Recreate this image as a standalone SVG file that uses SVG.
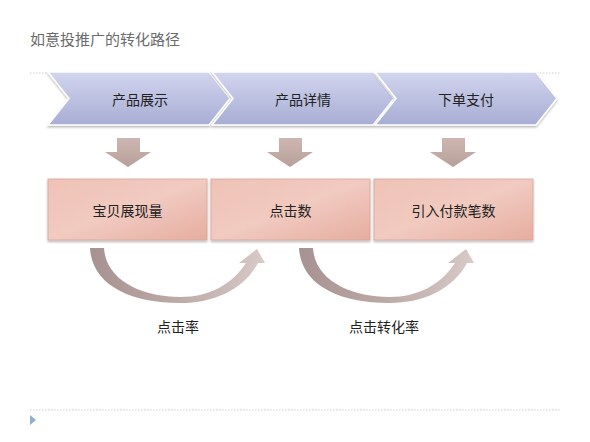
<svg xmlns="http://www.w3.org/2000/svg" width="590" height="442" viewBox="0 0 590 442">
<defs>
<style>
text{font-family:"Noto Sans CJK SC","Liberation Sans",sans-serif;}
.title{font-size:15px;fill:#6b6b6b;}
.lbl{font-size:14px;fill:#222;text-anchor:middle;dominant-baseline:central;}
.chev{fill:url(#gChev);stroke:#fff;stroke-width:1.5;filter:url(#sh);}
.box{fill:url(#gBox);stroke:#d7a79b;stroke-width:0.8;filter:url(#sh);}
.down{fill:url(#gDown);}
.curve{fill:url(#gCurve);}
.dots{stroke:#c9ccd3;stroke-width:1;stroke-dasharray:1.5 1.5;fill:none;}
</style>
<linearGradient id="gChev" x1="0" y1="0" x2="0" y2="1">
<stop offset="0" stop-color="#d2d5ee"/>
<stop offset="1" stop-color="#a8add4"/>
</linearGradient>
<linearGradient id="gBox" x1="0" y1="0" x2="1" y2="1">
<stop offset="0" stop-color="#efc2b7"/>
<stop offset="0.5" stop-color="#f1cac0"/>
<stop offset="1" stop-color="#e6ada0"/>
</linearGradient>
<linearGradient id="gDown" x1="0" y1="0" x2="0" y2="1">
<stop offset="0" stop-color="#cdb6b1"/>
<stop offset="1" stop-color="#b89f9a"/>
</linearGradient>
<linearGradient id="gCurve" x1="0" y1="0" x2="1" y2="0">
<stop offset="0" stop-color="#a69290"/>
<stop offset="0.5" stop-color="#bcaaa7"/>
<stop offset="1" stop-color="#d8cac7"/>
</linearGradient>
<filter id="sh" x="-10%" y="-10%" width="120%" height="130%">
<feDropShadow dx="0" dy="1.5" stdDeviation="1.2" flood-color="#000" flood-opacity="0.3"/>
</filter>
</defs>
<rect width="590" height="442" fill="#fff"/>
<text class="title" x="30" y="45">如意投推广的转化路径</text>
<line class="dots" x1="30" y1="73" x2="560" y2="73"/>
<line class="dots" x1="30" y1="410" x2="560" y2="410"/>
<polygon points="30,415 36,420 30,425" fill="#8fb0cf"/>

<g id="chevron1">
<polygon class="chev" points="48,72 209,72 230,98.5 209,125 48,125 69,98.5"/>
<text class="lbl" x="140" y="98.5">产品展示</text>
</g>
<g id="chevron2">
<polygon class="chev" points="212,72 373,72 394,98.5 373,125 212,125 233,98.5"/>
<text class="lbl" x="303" y="98.5">产品详情</text>
</g>
<g id="chevron3">
<polygon class="chev" points="375,72 536,72 557,98.5 536,125 375,125 396,98.5"/>
<text class="lbl" x="466" y="98.5">下单支付</text>
</g>

<g id="connectors">
<polygon class="down" points="117,138 140,138 140,152 151,152 128,167 105,152 117,152"/>
<polygon class="down" points="279,138 302,138 302,152 313,152 290,167 267,152 279,152"/>
<polygon class="down" points="442,138 465,138 465,152 476,152 453,167 430,152 442,152"/>
<path class="curve" d="M90,248 L104,248 C106,282 145,297 180,297 C210,297 232,284 246,263 L239,263 L257,249 L265,263 L258,263 C244,289 215,303 180,303 C130,303 92,285 90,248 Z"/>
<path class="curve" transform="translate(209,0)" d="M90,248 L104,248 C106,282 145,297 180,297 C210,297 232,284 246,263 L239,263 L257,249 L265,263 L258,263 C244,289 215,303 180,303 C130,303 92,285 90,248 Z"/>
</g>

<g id="box1">
<rect class="box" x="48" y="179" width="159" height="61"/>
<text class="lbl" x="127.5" y="210">宝贝展现量</text>
</g>
<g id="box2">
<rect class="box" x="211" y="179" width="159" height="61"/>
<text class="lbl" x="290.5" y="210">点击数</text>
</g>
<g id="box3">
<rect class="box" x="374" y="179" width="159" height="61"/>
<text class="lbl" x="453.5" y="210">引入付款笔数</text>
</g>

<g id="rate1">
<text class="lbl" x="178" y="326">点击率</text>
</g>
<g id="rate2">
<text class="lbl" x="384" y="326">点击转化率</text>
</g>
</svg>
